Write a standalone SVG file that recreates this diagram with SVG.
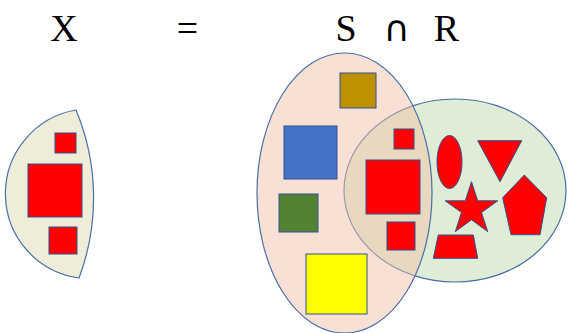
<svg xmlns="http://www.w3.org/2000/svg" width="568" height="333" viewBox="0 0 568 333">
<style>
.t{font-family:"Liberation Serif","Times New Roman",serif;font-size:38px;fill:#000;text-anchor:middle}
.s{stroke:#2F528F;stroke-width:1}
.r{fill:#FF0000}
.set{stroke:#4A6FA5;stroke-width:1.2}
</style>
<rect width="568" height="333" fill="#fff"/>
<g id="title">
<text class="t" x="64" y="41">X</text>
<text class="t" x="187.5" y="41">=</text>
<text class="t" x="346" y="41">S</text>
<text class="t" x="396.5" y="41" style="font-family:'DejaVu Sans','Liberation Serif',serif;font-size:36px">∩</text>
<text class="t" x="446.5" y="41">R</text>
</g>
<g id="setX">
<path class="set" fill="#EFECDA" d="M76,110 A85,85 0 0 0 79,278 A228,228 0 0 0 76,110 Z"/>
<rect class="s r" x="55" y="133" width="21" height="20"/>
<rect class="s r" x="28" y="164" width="54" height="53"/>
<rect class="s r" x="49" y="227" width="28" height="27"/>
</g>
<g id="setR">
<ellipse class="set" fill="#DFECD6" cx="455" cy="190.5" rx="111" ry="91.5"/>
</g>
<g id="setS">
<ellipse class="set" fill="rgb(242,195,170)" fill-opacity="0.5" cx="344.5" cy="193" rx="87.5" ry="140"/>
<rect class="s" fill="#BF9000" x="340" y="73" width="36" height="35"/>
<rect class="s" fill="#4472C4" x="284" y="126" width="53" height="53"/>
<rect class="s" fill="#548235" x="279" y="194" width="39" height="38"/>
<rect class="s" fill="#FFFF00" x="306" y="254" width="61" height="60"/>
</g>
<g id="shared">
<rect class="s r" x="394" y="129" width="20" height="20"/>
<rect class="s r" x="366" y="160" width="54" height="54"/>
<rect class="s r" x="387" y="222" width="28" height="28"/>
</g>
<g id="onlyR">
<ellipse class="s r" cx="449.5" cy="162" rx="12.5" ry="26.5"/>
<polygon class="s r" points="477.7,140.7 521.7,140.7 500,181.7"/>
<polygon class="s r" points="471.5,181.7 477.7,200.8 497.8,200.8 481.5,212.5 487.7,231.6 471.5,219.8 455.3,231.6 461.5,212.5 445.2,200.8 465.3,200.8"/>
<polygon class="s r" points="524.3,175 546.7,197.7 540,234.7 511,234.7 502.7,197.7"/>
<polygon class="s r" points="438.3,235 473.3,235 477.7,258.3 433.3,258.3"/>
</g>
</svg>
